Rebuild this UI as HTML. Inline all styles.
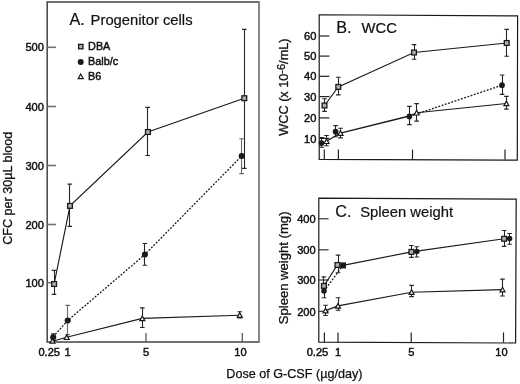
<!DOCTYPE html><html><head><meta charset="utf-8"><style>html,body{margin:0;padding:0;background:#fff;}svg{display:block;will-change:transform;}text{font-family:"Liberation Sans", sans-serif;fill:#111;stroke:#111;stroke-width:0.45px;}</style></head><body>
<svg width="520" height="384" viewBox="0 0 520 384">
<rect width="520" height="384" fill="#fff"/>
<path d="M259.0,2.0 H47.2 V342.0 H259.0" stroke="#444" stroke-width="1.5" fill="none" stroke-linejoin="miter"/>
<path d="M259.0,1.3 V342.7" stroke="#7a7a7a" stroke-width="1.8" fill="none"/>
<path d="M47.5,47.3 H55.9" stroke="#707070" stroke-width="1.6"/>
<text x="25.41" y="51.3" font-size="11.1">500</text>
<path d="M47.5,106.5 H55.9" stroke="#707070" stroke-width="1.6"/>
<text x="25.41" y="110.5" font-size="11.1">400</text>
<path d="M47.5,165.5 H55.9" stroke="#707070" stroke-width="1.6"/>
<text x="25.41" y="169.5" font-size="11.1">300</text>
<path d="M47.5,224.5 H55.9" stroke="#707070" stroke-width="1.6"/>
<text x="25.41" y="228.5" font-size="11.1">200</text>
<path d="M47.5,282.7 H55.9" stroke="#707070" stroke-width="1.6"/>
<text x="25.41" y="286.7" font-size="11.1">100</text>
<path d="M146.0,333 V342" stroke="#5a5a5a" stroke-width="1.3"/>
<path d="M242.3,333 V342" stroke="#5a5a5a" stroke-width="1.3"/>
<text x="38.46" y="355.8" font-size="11.1">0.25</text>
<text x="64.61" y="355.8" font-size="11.1">1</text>
<text x="143.07" y="355.8" font-size="11.1">5</text>
<text x="234.32" y="355.8" font-size="11.1">10</text>
<text x="69.47" y="24.5" font-size="16.2" style="stroke-width:0.2px">A.</text>
<text x="90.59" y="24.7" font-size="14.8" style="stroke-width:0.2px">Progenitor cells</text>
<rect x="78.60" y="44.40" width="4.4" height="4.4" fill="#b0b0b0" stroke="#1a1a1a" stroke-width="1.3"/>
<text x="88.11" y="50.3" font-size="10.8">DBA</text>
<circle cx="80.7" cy="62.0" r="3.0" fill="#1a1a1a"/>
<text x="88.11" y="65.3" font-size="10.8">Balb/c</text>
<path d="M80.70,74.00 L83.20,78.60 L78.20,78.60 Z" fill="#fff" stroke="#1a1a1a" stroke-width="1.2" stroke-linejoin="miter"/>
<text x="88.11" y="79.5" font-size="10.8">B6</text>
<text transform="translate(12.0,244.84) rotate(-90)" font-size="12.6" style="stroke-width:0.3px">CFC per 30µL blood</text>
<path d="M54.5,270.4 V294.4" stroke="#262626" stroke-width="1.1" fill="none"/>
<path d="M51.70,270.4 H56.30 M51.70,294.4 H56.30" stroke="#262626" stroke-width="1.15" fill="none"/>
<path d="M69.5,184.1 V226.3" stroke="#262626" stroke-width="1.1" fill="none"/>
<path d="M67.50,184.1 H72.10 M67.50,226.3 H72.10" stroke="#262626" stroke-width="1.15" fill="none"/>
<path d="M147.5,107.3 V155.5" stroke="#262626" stroke-width="1.1" fill="none"/>
<path d="M145.40,107.3 H150.00 M145.40,155.5 H150.00" stroke="#262626" stroke-width="1.15" fill="none"/>
<path d="M244.5,29.3 V168.4" stroke="#262626" stroke-width="1.1" fill="none"/>
<path d="M242.00,29.3 H246.60 M242.00,168.4 H246.60" stroke="#262626" stroke-width="1.15" fill="none"/>
<path d="M53.5,333.8 V340.6" stroke="#262626" stroke-width="1.1" fill="none"/>
<path d="M51.10,333.8 H55.30 M51.10,340.6 H55.30" stroke="#262626" stroke-width="1.15" fill="none"/>
<path d="M67.5,305.3 V334.6" stroke="#6a6a6a" stroke-width="1.1" fill="none"/>
<path d="M65.40,305.3 H70.00 M65.40,334.6 H70.00" stroke="#6a6a6a" stroke-width="1.15" fill="none"/>
<path d="M144.5,243.5 V265.2" stroke="#262626" stroke-width="1.1" fill="none"/>
<path d="M142.60,243.5 H147.20 M142.60,265.2 H147.20" stroke="#262626" stroke-width="1.15" fill="none"/>
<path d="M241.5,138.7 V173.6" stroke="#6a6a6a" stroke-width="1.1" fill="none"/>
<path d="M239.30,138.7 H243.90 M239.30,173.6 H243.90" stroke="#6a6a6a" stroke-width="1.15" fill="none"/>
<path d="M142.5,307.8 V327.5" stroke="#262626" stroke-width="1.1" fill="none"/>
<path d="M140.00,307.8 H144.60 M140.00,327.5 H144.60" stroke="#262626" stroke-width="1.15" fill="none"/>
<path d="M239.5,311.7 V318.0" stroke="#262626" stroke-width="1.1" fill="none"/>
<path d="M237.50,311.7 H242.10 M237.50,318.0 H242.10" stroke="#262626" stroke-width="1.15" fill="none"/>
<path d="M54.1,284 L70,205.9 L147.9,132 L244.3,98.2" stroke="#1a1a1a" stroke-width="1.15" fill="none"/>
<path d="M53,337 L67.7,320.5 L144.9,254.5 L241.7,156" stroke="#1a1a1a" stroke-width="1.3" fill="none" stroke-dasharray="1.9 1.5"/>
<path d="M52.5,341.3 L66.7,337.3 L142.3,318.4 L239.8,315.2" stroke="#1a1a1a" stroke-width="1.15" fill="none"/>
<rect x="51.70" y="281.60" width="4.8" height="4.8" fill="#b0b0b0" stroke="#1a1a1a" stroke-width="1.3"/>
<rect x="67.60" y="203.50" width="4.8" height="4.8" fill="#b0b0b0" stroke="#1a1a1a" stroke-width="1.3"/>
<rect x="145.50" y="129.60" width="4.8" height="4.8" fill="#b0b0b0" stroke="#1a1a1a" stroke-width="1.3"/>
<rect x="241.90" y="95.80" width="4.8" height="4.8" fill="#b0b0b0" stroke="#1a1a1a" stroke-width="1.3"/>
<circle cx="53.2" cy="337.2" r="3.05" fill="#1a1a1a"/>
<circle cx="67.7" cy="320.5" r="3.05" fill="#1a1a1a"/>
<circle cx="144.9" cy="254.5" r="3.05" fill="#1a1a1a"/>
<circle cx="241.7" cy="156" r="3.05" fill="#1a1a1a"/>
<path d="M52.50,338.60 L55.00,343.20 L50.00,343.20 Z" fill="#fff" stroke="#1a1a1a" stroke-width="1.2" stroke-linejoin="miter"/>
<path d="M66.70,334.90 L69.20,339.50 L64.20,339.50 Z" fill="#fff" stroke="#1a1a1a" stroke-width="1.2" stroke-linejoin="miter"/>
<path d="M142.30,316.00 L144.80,320.60 L139.80,320.60 Z" fill="#fff" stroke="#1a1a1a" stroke-width="1.2" stroke-linejoin="miter"/>
<path d="M239.80,312.80 L242.30,317.40 L237.30,317.40 Z" fill="#fff" stroke="#1a1a1a" stroke-width="1.2" stroke-linejoin="miter"/>
<path d="M319.2,14.75 L517.6,15.85 L517.3,160.2 L319.2,159.3 Z" stroke="#1a1a1a" stroke-width="1.2" fill="none"/>
<path d="M319.2,36 H329.4" stroke="#222" stroke-width="1.2"/>
<text x="303.99" y="40.0" font-size="11.1">60</text>
<path d="M319.2,56.1 H329.4" stroke="#222" stroke-width="1.2"/>
<text x="303.99" y="59.9" font-size="11.1">50</text>
<path d="M319.2,76.3 H329.4" stroke="#222" stroke-width="1.2"/>
<text x="303.99" y="80.3" font-size="11.1">40</text>
<path d="M319.2,96.6 H329.4" stroke="#222" stroke-width="1.2"/>
<text x="303.99" y="100.6" font-size="11.1">30</text>
<path d="M319.2,117.9 H329.4" stroke="#222" stroke-width="1.2"/>
<text x="303.99" y="121.9" font-size="11.1">20</text>
<path d="M319.2,138.4 H329.4" stroke="#222" stroke-width="1.2"/>
<text x="303.99" y="143.0" font-size="11.1">10</text>
<path d="M324.3,149.6 V159.5" stroke="#222" stroke-width="1.2"/>
<path d="M338.4,149.6 V159.5" stroke="#222" stroke-width="1.2"/>
<path d="M412.5,149.6 V159.5" stroke="#222" stroke-width="1.2"/>
<path d="M505.0,149.6 V159.5" stroke="#222" stroke-width="1.2"/>
<text x="336.17" y="32.5" font-size="16.2" style="stroke-width:0.2px">B.</text>
<text x="361.53" y="32.8" font-size="14.8" style="stroke-width:0.2px">WCC</text>
<text transform="translate(287.7,135.7) rotate(-90)" font-size="12.7" style="stroke-width:0.3px">WCC (x 10<tspan font-size="11" dy="-2.4">-6</tspan><tspan dy="2.4">/mL)</tspan></text>
<path d="M324.5,98.7 V111.4" stroke="#262626" stroke-width="1.1" fill="none"/>
<path d="M322.20,98.7 H326.80 M322.20,111.4 H326.80" stroke="#262626" stroke-width="1.15" fill="none"/>
<path d="M338.5,77.2 V94.9" stroke="#262626" stroke-width="1.1" fill="none"/>
<path d="M336.00,77.2 H340.60 M336.00,94.9 H340.60" stroke="#262626" stroke-width="1.15" fill="none"/>
<path d="M414.5,44.6 V59.2" stroke="#262626" stroke-width="1.1" fill="none"/>
<path d="M411.70,44.6 H416.30 M411.70,59.2 H416.30" stroke="#262626" stroke-width="1.15" fill="none"/>
<path d="M506.5,29.4 V56.2" stroke="#262626" stroke-width="1.1" fill="none"/>
<path d="M504.40,29.4 H509.00 M504.40,56.2 H509.00" stroke="#262626" stroke-width="1.15" fill="none"/>
<path d="M321.5,137.6 V147.2" stroke="#262626" stroke-width="1.1" fill="none"/>
<path d="M319.50,137.6 H324.10 M319.50,147.2 H324.10" stroke="#262626" stroke-width="1.15" fill="none"/>
<path d="M335.5,125.6 V136.7" stroke="#262626" stroke-width="1.1" fill="none"/>
<path d="M333.30,125.6 H337.90 M333.30,136.7 H337.90" stroke="#262626" stroke-width="1.15" fill="none"/>
<path d="M409.5,106.4 V124.6" stroke="#262626" stroke-width="1.1" fill="none"/>
<path d="M407.10,106.4 H411.70 M407.10,124.6 H411.70" stroke="#262626" stroke-width="1.15" fill="none"/>
<path d="M502.5,75.0 V94.3" stroke="#262626" stroke-width="1.1" fill="none"/>
<path d="M499.70,75.0 H504.30 M499.70,94.3 H504.30" stroke="#262626" stroke-width="1.15" fill="none"/>
<path d="M326.5,135.5 V145.7" stroke="#262626" stroke-width="1.1" fill="none"/>
<path d="M324.20,135.5 H328.80 M324.20,145.7 H328.80" stroke="#262626" stroke-width="1.15" fill="none"/>
<path d="M340.5,128.2 V137.9" stroke="#262626" stroke-width="1.1" fill="none"/>
<path d="M338.20,128.2 H342.80 M338.20,137.9 H342.80" stroke="#262626" stroke-width="1.15" fill="none"/>
<path d="M416.5,103.6 V121.1" stroke="#262626" stroke-width="1.1" fill="none"/>
<path d="M414.30,103.6 H418.90 M414.30,121.1 H418.90" stroke="#262626" stroke-width="1.15" fill="none"/>
<path d="M506.5,96.4 V109.1" stroke="#262626" stroke-width="1.1" fill="none"/>
<path d="M504.10,96.4 H508.70 M504.10,109.1 H508.70" stroke="#262626" stroke-width="1.15" fill="none"/>
<path d="M324.5,105.5 L338.3,86.9 L414,52.5 L506.7,43" stroke="#1a1a1a" stroke-width="1.15" fill="none"/>
<path d="M409.4,116.4 L502,85.2" stroke="#1a1a1a" stroke-width="1.3" fill="none" stroke-dasharray="1.9 1.5"/>
<path d="M326.5,141.3 L340.5,133.1" stroke="#1a1a1a" stroke-width="1.15" fill="none"/>
<path d="M340.5,133.1 L409.4,116.0" stroke="#1a1a1a" stroke-width="1.45" fill="none"/>
<path d="M409.4,116.0 L416.6,112.8 L506.4,103.5" stroke="#1a1a1a" stroke-width="1.15" fill="none"/>
<rect x="322.10" y="103.10" width="4.8" height="4.8" fill="#b0b0b0" stroke="#1a1a1a" stroke-width="1.3"/>
<rect x="335.90" y="84.50" width="4.8" height="4.8" fill="#b0b0b0" stroke="#1a1a1a" stroke-width="1.3"/>
<rect x="411.60" y="50.10" width="4.8" height="4.8" fill="#b0b0b0" stroke="#1a1a1a" stroke-width="1.3"/>
<rect x="504.30" y="40.60" width="4.8" height="4.8" fill="#b0b0b0" stroke="#1a1a1a" stroke-width="1.3"/>
<circle cx="321.5" cy="143.1" r="2.85" fill="#1a1a1a"/>
<circle cx="335.6" cy="131.7" r="2.85" fill="#1a1a1a"/>
<circle cx="409.4" cy="116.4" r="2.85" fill="#1a1a1a"/>
<circle cx="502" cy="85.2" r="2.85" fill="#1a1a1a"/>
<path d="M326.50,138.90 L329.00,143.50 L324.00,143.50 Z" fill="#fff" stroke="#1a1a1a" stroke-width="1.2" stroke-linejoin="miter"/>
<path d="M340.50,130.70 L343.00,135.30 L338.00,135.30 Z" fill="#fff" stroke="#1a1a1a" stroke-width="1.2" stroke-linejoin="miter"/>
<path d="M416.60,110.40 L419.10,115.00 L414.10,115.00 Z" fill="#fff" stroke="#1a1a1a" stroke-width="1.2" stroke-linejoin="miter"/>
<path d="M506.40,101.10 L508.90,105.70 L503.90,105.70 Z" fill="#fff" stroke="#1a1a1a" stroke-width="1.2" stroke-linejoin="miter"/>
<path d="M318.8,198.2 L516.2,199.2 L515.6,343.0 L318.8,342.2 Z" stroke="#1a1a1a" stroke-width="1.2" fill="none"/>
<path d="M318.8,218.75 H328.6" stroke="#333" stroke-width="1.2"/>
<text x="297.21" y="222.95" font-size="11.1">400</text>
<path d="M318.8,249.8 H328.6" stroke="#333" stroke-width="1.2"/>
<text x="297.21" y="254.0" font-size="11.1">300</text>
<path d="M318.8,280.0 H328.6" stroke="#333" stroke-width="1.2"/>
<text x="297.21" y="284.2" font-size="11.1">300</text>
<path d="M318.8,311.3 H328.6" stroke="#333" stroke-width="1.2"/>
<text x="297.21" y="315.5" font-size="11.1">200</text>
<path d="M324.4,332.4 V342.5" stroke="#222" stroke-width="1.2"/>
<path d="M338.0,332.4 V342.5" stroke="#222" stroke-width="1.2"/>
<path d="M411.2,332.4 V342.5" stroke="#222" stroke-width="1.2"/>
<path d="M503.5,332.4 V342.5" stroke="#222" stroke-width="1.2"/>
<text x="306.71" y="356.3" font-size="11.1">0.25</text>
<text x="334.91" y="356.3" font-size="11.1">1</text>
<text x="408.32" y="356.3" font-size="11.1">5</text>
<text x="495.27" y="356.3" font-size="11.1">10</text>
<text x="335.28" y="216.9" font-size="16.2" style="stroke-width:0.2px">C.</text>
<text x="360.13" y="217.0" font-size="14.8" style="stroke-width:0.2px">Spleen weight</text>
<text transform="translate(287.6,324.29) rotate(-90)" font-size="13.1" style="stroke-width:0.3px">Spleen weight (mg)</text>
<path d="M323.5,276.9 V292" stroke="#262626" stroke-width="1.1" fill="none"/>
<path d="M321.60,276.9 H326.20 M321.60,292 H326.20" stroke="#262626" stroke-width="1.15" fill="none"/>
<path d="M338.5,255.1 V272.7" stroke="#262626" stroke-width="1.1" fill="none"/>
<path d="M335.70,255.1 H340.30 M335.70,272.7 H340.30" stroke="#262626" stroke-width="1.15" fill="none"/>
<path d="M411.5,245.5 V257.3" stroke="#262626" stroke-width="1.1" fill="none"/>
<path d="M409.10,245.5 H413.70 M409.10,257.3 H413.70" stroke="#262626" stroke-width="1.15" fill="none"/>
<path d="M504.5,230.5 V246.4" stroke="#262626" stroke-width="1.1" fill="none"/>
<path d="M501.80,230.5 H506.40 M501.80,246.4 H506.40" stroke="#262626" stroke-width="1.15" fill="none"/>
<path d="M324.5,286 V297.7" stroke="#262626" stroke-width="1.1" fill="none"/>
<path d="M321.70,286 H326.30 M321.70,297.7 H326.30" stroke="#262626" stroke-width="1.15" fill="none"/>
<path d="M416.5,246.7 V257.0" stroke="#262626" stroke-width="1.1" fill="none"/>
<path d="M414.60,246.7 H419.20 M414.60,257.0 H419.20" stroke="#262626" stroke-width="1.15" fill="none"/>
<path d="M509.5,233.5 V244.2" stroke="#262626" stroke-width="1.1" fill="none"/>
<path d="M507.30,233.5 H511.90 M507.30,244.2 H511.90" stroke="#262626" stroke-width="1.15" fill="none"/>
<path d="M325.5,305.2 V315.5" stroke="#262626" stroke-width="1.1" fill="none"/>
<path d="M323.20,305.2 H327.80 M323.20,315.5 H327.80" stroke="#262626" stroke-width="1.15" fill="none"/>
<path d="M338.5,297.7 V310.2" stroke="#262626" stroke-width="1.1" fill="none"/>
<path d="M335.70,297.7 H340.30 M335.70,310.2 H340.30" stroke="#262626" stroke-width="1.15" fill="none"/>
<path d="M411.5,285.3 V296.6" stroke="#262626" stroke-width="1.1" fill="none"/>
<path d="M409.30,285.3 H413.90 M409.30,296.6 H413.90" stroke="#262626" stroke-width="1.15" fill="none"/>
<path d="M502.5,279.1 V296.0" stroke="#262626" stroke-width="1.1" fill="none"/>
<path d="M500.20,279.1 H504.80 M500.20,296.0 H504.80" stroke="#262626" stroke-width="1.15" fill="none"/>
<path d="M323.9,285.9 L337.4,265 L343,265.4 L411.4,251.9 L504.1,238.8" stroke="#1a1a1a" stroke-width="1.15" fill="none"/>
<path d="M324,291.1 L343,265.4" stroke="#1a1a1a" stroke-width="1.3" fill="none" stroke-dasharray="1.9 1.5"/>
<path d="M325.5,310.6 L338,305.9 L411.6,292.2 L502.5,289.6" stroke="#1a1a1a" stroke-width="1.15" fill="none"/>
<rect x="321.50" y="283.50" width="4.8" height="4.8" fill="#b0b0b0" stroke="#1a1a1a" stroke-width="1.3"/>
<rect x="335.00" y="262.60" width="4.8" height="4.8" fill="#b0b0b0" stroke="#1a1a1a" stroke-width="1.3"/>
<rect x="409.00" y="249.50" width="4.8" height="4.8" fill="#b0b0b0" stroke="#1a1a1a" stroke-width="1.3"/>
<rect x="501.70" y="236.40" width="4.8" height="4.8" fill="#b0b0b0" stroke="#1a1a1a" stroke-width="1.3"/>
<circle cx="324" cy="291.1" r="2.75" fill="#1a1a1a"/>
<circle cx="416.9" cy="251.6" r="2.75" fill="#1a1a1a"/>
<circle cx="509.6" cy="238.5" r="2.75" fill="#1a1a1a"/>
<rect x="340.2" y="262.4" width="5.8" height="6" fill="#1a1a1a"/>
<path d="M325.50,308.20 L328.00,312.80 L323.00,312.80 Z" fill="#fff" stroke="#1a1a1a" stroke-width="1.2" stroke-linejoin="miter"/>
<path d="M338.00,303.50 L340.50,308.10 L335.50,308.10 Z" fill="#fff" stroke="#1a1a1a" stroke-width="1.2" stroke-linejoin="miter"/>
<path d="M411.60,289.80 L414.10,294.40 L409.10,294.40 Z" fill="#fff" stroke="#1a1a1a" stroke-width="1.2" stroke-linejoin="miter"/>
<path d="M502.50,287.20 L505.00,291.80 L500.00,291.80 Z" fill="#fff" stroke="#1a1a1a" stroke-width="1.2" stroke-linejoin="miter"/>
<text x="226.37" y="377.6" font-size="12.6" style="stroke-width:0.25px">Dose of G-CSF (µg/day)</text>
</svg></body></html>
